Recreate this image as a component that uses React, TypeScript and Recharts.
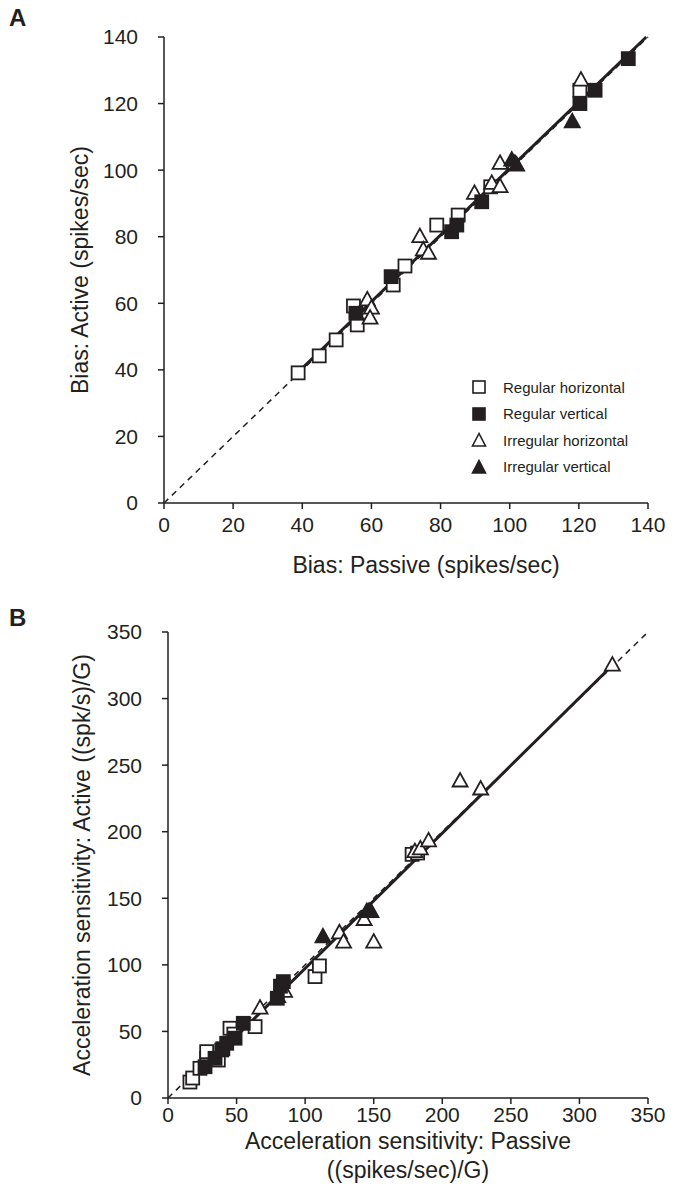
import React from 'react';
import { ScatterChart, Scatter, XAxis, YAxis, ReferenceLine } from 'recharts';

const FONT = '"Liberation Sans", Arial, sans-serif';
const INK = '#231f20';

// Panel A: Bias (spikes/sec)
const biasTicks = [0, 20, 40, 60, 80, 100, 120, 140];
const regHorizA = [
  { x: 38.8, y: 39.1 }, { x: 44.9, y: 44.2 }, { x: 49.8, y: 49 }, { x: 54.8, y: 59.2 },
  { x: 55.9, y: 53.5 }, { x: 66.3, y: 65.5 }, { x: 69.7, y: 71.2 }, { x: 78.9, y: 83.5 },
  { x: 85.1, y: 86.5 }, { x: 94.5, y: 95 }, { x: 120.3, y: 124 },
];
const regVertA = [
  { x: 55.5, y: 57 }, { x: 65.7, y: 68 }, { x: 83.2, y: 81.5 }, { x: 84.7, y: 83.5 },
  { x: 91.9, y: 90.5 }, { x: 120.3, y: 120 }, { x: 124.7, y: 124 }, { x: 134.3, y: 133.5 },
];
const irrHorizA = [
  { x: 58.8, y: 61 }, { x: 60, y: 58.5 }, { x: 59.6, y: 55.5 }, { x: 74, y: 80 },
  { x: 75, y: 76 }, { x: 76.5, y: 75 }, { x: 89.8, y: 93 }, { x: 94.8, y: 96 },
  { x: 97.2, y: 95 }, { x: 97.2, y: 102 }, { x: 101.5, y: 102 }, { x: 120.6, y: 127 },
];
const irrVertA = [{ x: 100.6, y: 103 }, { x: 102, y: 101.5 }, { x: 118.1, y: 114.5 }];
const fitA = [{ x: 39, y: 39.5 }, { x: 139.5, y: 140 }];
const unityA = [{ x: 0, y: 0 }, { x: 140, y: 140 }];

// Panel B: Acceleration sensitivity ((spikes/sec)/G)
const accTicks = [0, 50, 100, 150, 200, 250, 300, 350];
const regHorizB = [
  { x: 16, y: 12 }, { x: 18, y: 15 }, { x: 23.3, y: 22.3 }, { x: 28.2, y: 29.8 },
  { x: 28.2, y: 34.8 }, { x: 36.7, y: 28.5 }, { x: 40, y: 37 }, { x: 45.2, y: 52.4 },
  { x: 48, y: 48 }, { x: 63.5, y: 53.6 }, { x: 107.2, y: 91.2 }, { x: 110.4, y: 99.2 },
  { x: 178, y: 183 }, { x: 182, y: 184 },
];
const regVertB = [
  { x: 27, y: 23.5 }, { x: 34.3, y: 29.8 }, { x: 39.2, y: 36.1 }, { x: 42.8, y: 41.1 },
  { x: 48.9, y: 44.9 }, { x: 54.9, y: 56.1 }, { x: 79.7, y: 74.9 }, { x: 82, y: 84 },
  { x: 84.1, y: 87.4 },
];
const irrHorizB = [
  { x: 67.1, y: 67.4 }, { x: 80, y: 76 }, { x: 85, y: 80 }, { x: 125, y: 124 },
  { x: 128, y: 117 }, { x: 143, y: 134 }, { x: 150, y: 117 }, { x: 180, y: 185 },
  { x: 184, y: 187 }, { x: 190, y: 193 }, { x: 213, y: 238 }, { x: 228, y: 232 },
  { x: 324, y: 325 },
];
const irrVertB = [{ x: 113, y: 121 }, { x: 145, y: 140 }, { x: 148, y: 140 }];
const fitB = [{ x: 17, y: 13 }, { x: 325, y: 326 }];
const unityB = [{ x: 0, y: 0 }, { x: 350, y: 350 }];

const seriesNames = ['Regular horizontal', 'Regular vertical', 'Irregular horizontal', 'Irregular vertical'];

const SQ = 13;
const TRI = 15;

const squareShape = (filled: boolean) => (props: any) => {
  const { cx, cy } = props;
  if (cx == null || cy == null) return <g />;
  return (
    <rect x={cx - SQ / 2} y={cy - SQ / 2} width={SQ} height={SQ}
      fill={filled ? INK : '#fff'} stroke={INK} strokeWidth={1.8} />
  );
};
const triShape = (filled: boolean) => (props: any) => {
  const { cx, cy } = props;
  if (cx == null || cy == null) return <g />;
  const h = TRI * 0.9;
  const pts = `${cx},${cy - h * 0.6} ${cx - TRI / 2},${cy + h * 0.4} ${cx + TRI / 2},${cy + h * 0.4}`;
  return <polygon points={pts} fill={filled ? INK : '#fff'} stroke={INK} strokeWidth={1.8} strokeLinejoin="miter" />;
};

const LegendSymbol = ({ i }: { i: number }) => {
  const filled = i === 1 || i === 3;
  if (i < 2) {
    return <rect x={2} y={2} width={12} height={12} fill={filled ? INK : '#fff'} stroke={INK} strokeWidth={1.6} />;
  }
  return <polygon points="8,1.5 1.5,14 14.5,14" fill={filled ? INK : '#fff'} stroke={INK} strokeWidth={1.6} />;
};

const LegendBox = () => (
  <div style={{ position: 'absolute', left: 471, top: 374, fontFamily: FONT, fontSize: 15, color: INK }}>
    {seriesNames.map((n, i) => (
      <div key={n} style={{ display: 'flex', alignItems: 'center', height: 26.5 }}>
        <svg width={16} height={16} style={{ marginRight: 16 }}><LegendSymbol i={i} /></svg>
        <span>{n}</span>
      </div>
    ))}
  </div>
);

const TICK_FS = 21;
const TITLE_FS = 23;
const tickStyle = { fill: INK, fontSize: TICK_FS, fontFamily: FONT };
const axisLine = { stroke: INK, strokeWidth: 1.5 };

const XLabelA = (props: any) => {
  const vb = props.viewBox || { x: 0, y: 0, width: 0, height: 0 };
  const cx = vb.x + vb.width / 2 + 20;
  return (
    <text x={cx} y={vb.y + 70} textAnchor="middle" fill={INK} fontSize={TITLE_FS} fontFamily={FONT}>
      Bias: Passive (spikes/sec)
    </text>
  );
};

const XLabelB = (props: any) => {
  const vb = props.viewBox || { x: 0, y: 0, width: 0, height: 0 };
  const cx = vb.x + vb.width / 2;
  return (
    <text x={cx} y={vb.y + 51} textAnchor="middle" fill={INK} fontSize={TITLE_FS} fontFamily={FONT}>
      <tspan x={cx} dy={0}>Acceleration sensitivity: Passive</tspan>
      <tspan x={cx} dy={29}>((spikes/sec)/G)</tspan>
    </text>
  );
};

export default function App() {
  return (
    <div style={{ position: 'absolute', left: 0, top: 0, width: 684, height: 1195, background: '#fff', fontFamily: FONT }}>
      <div style={{ position: 'absolute', left: 9, top: 4, fontSize: 24, fontWeight: 'bold', color: INK }}>A</div>
      <div style={{ position: 'absolute', left: 9, top: 604, fontSize: 24, fontWeight: 'bold', color: INK }}>B</div>

      <div style={{ position: 'absolute', left: 0, top: 0 }}>
        <ScatterChart width={684} height={600} margin={{ top: 37, right: 36, left: 64, bottom: 67 }}>
          <XAxis type="number" dataKey="x" domain={[0, 140]} ticks={biasTicks} interval={0}
            tick={tickStyle} tickLine={axisLine} axisLine={axisLine} tickSize={6} tickMargin={8} height={30}
            label={<XLabelA />} />
          <YAxis type="number" dataKey="y" domain={[0, 140]} ticks={biasTicks} interval={0} width={100}
            tick={tickStyle} tickLine={axisLine} axisLine={axisLine} tickSize={6} tickMargin={20}
            label={{ value: 'Bias: Active (spikes/sec)', angle: -90, position: 'insideLeft', offset: 16, fill: INK, fontSize: TITLE_FS, fontFamily: FONT, style: { textAnchor: 'middle' } }} />
          <ReferenceLine segment={unityA} stroke={INK} strokeWidth={1.5} strokeDasharray="6 5" ifOverflow="visible" />
          <ReferenceLine segment={fitA} stroke={INK} strokeWidth={3} ifOverflow="visible" />
          <Scatter name={seriesNames[0]} data={regHorizA} shape={squareShape(false)} isAnimationActive={false} />
          <Scatter name={seriesNames[2]} data={irrHorizA} shape={triShape(false)} isAnimationActive={false} />
          <Scatter name={seriesNames[1]} data={regVertA} shape={squareShape(true)} isAnimationActive={false} />
          <Scatter name={seriesNames[3]} data={irrVertA} shape={triShape(true)} isAnimationActive={false} />
        </ScatterChart>
        <LegendBox />
      </div>

      <div style={{ position: 'absolute', left: 0, top: 600 }}>
        <ScatterChart width={684} height={595} margin={{ top: 32, right: 36, left: 68, bottom: 67 }}>
          <XAxis type="number" dataKey="x" domain={[0, 350]} ticks={accTicks} interval={0}
            tick={tickStyle} tickLine={axisLine} axisLine={axisLine} tickSize={6} tickMargin={3} height={30}
            label={<XLabelB />} />
          <YAxis type="number" dataKey="y" domain={[0, 350]} ticks={accTicks} interval={0} width={100}
            tick={tickStyle} tickLine={axisLine} axisLine={axisLine} tickSize={6} tickMargin={20}
            label={{ value: 'Acceleration sensitivity: Active ((spk/s)/G)', angle: -90, position: 'insideLeft', offset: 14, fill: INK, fontSize: TITLE_FS, fontFamily: FONT, style: { textAnchor: 'middle' } }} />
          <ReferenceLine segment={unityB} stroke={INK} strokeWidth={1.5} strokeDasharray="6 5" ifOverflow="visible" />
          <ReferenceLine segment={fitB} stroke={INK} strokeWidth={3} ifOverflow="visible" />
          <Scatter name={seriesNames[0]} data={regHorizB} shape={squareShape(false)} isAnimationActive={false} />
          <Scatter name={seriesNames[2]} data={irrHorizB} shape={triShape(false)} isAnimationActive={false} />
          <Scatter name={seriesNames[1]} data={regVertB} shape={squareShape(true)} isAnimationActive={false} />
          <Scatter name={seriesNames[3]} data={irrVertB} shape={triShape(true)} isAnimationActive={false} />
        </ScatterChart>
      </div>
    </div>
  );
}
